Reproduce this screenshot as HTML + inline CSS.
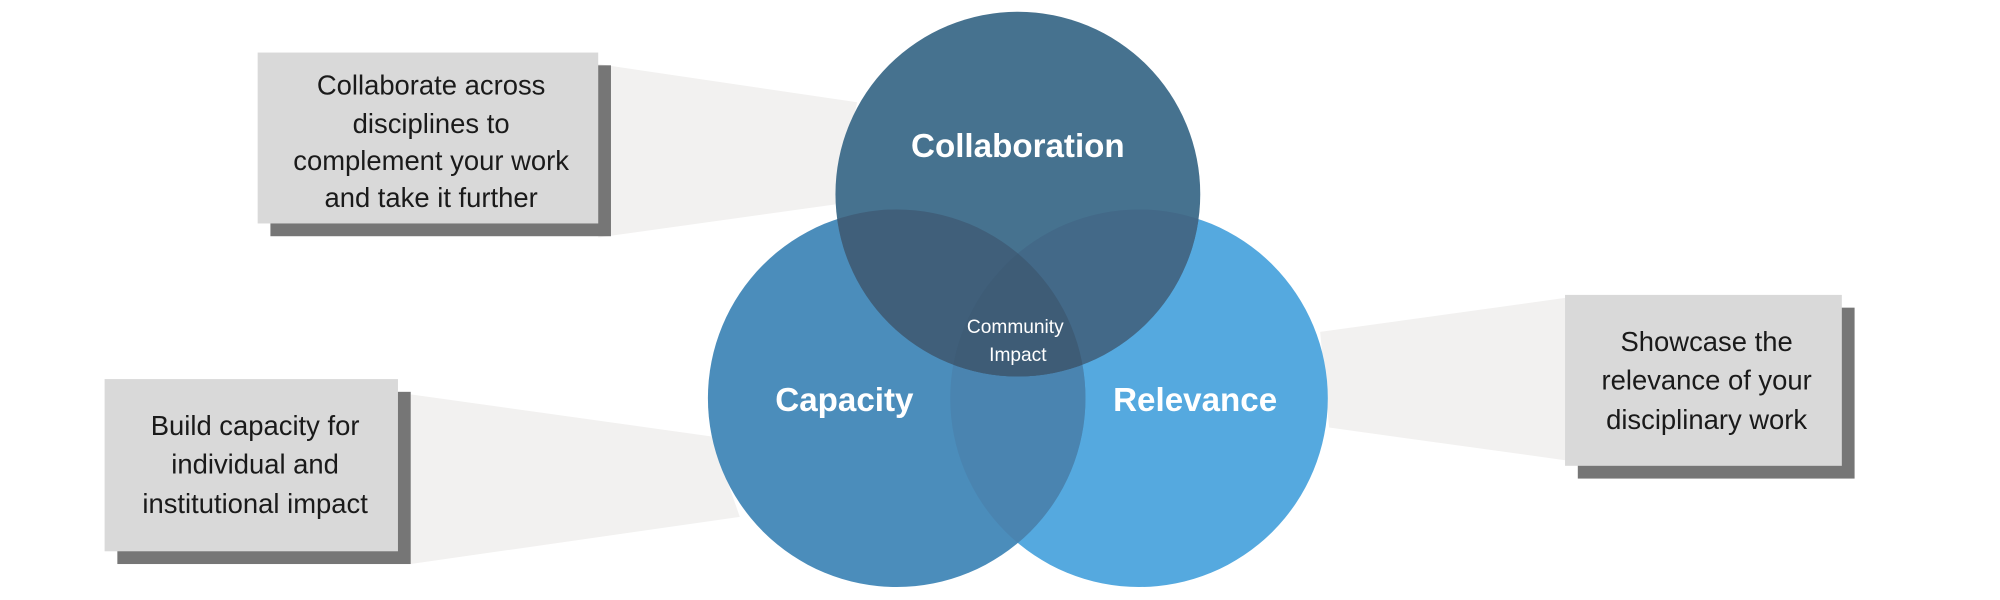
<!DOCTYPE html>
<html><head><meta charset="utf-8"><style>html,body{margin:0;padding:0;background:#fff}svg{display:block}</style></head>
<body>
<svg width="2000" height="600" viewBox="0 0 1568 470" xmlns="http://www.w3.org/2000/svg" font-family="'Liberation Sans', sans-serif">
<defs>
<clipPath id="cap"><circle cx="703" cy="312" r="148"/></clipPath>
<clipPath id="rel"><circle cx="893" cy="312" r="148"/></clipPath>
<clipPath id="col"><circle cx="798" cy="152" r="143"/></clipPath>
</defs>
<rect width="1568" height="470" fill="#fff"/>
<polygon points="469,50 672,80 655,160 469,186" fill="#f2f1f0"/>
<polygon points="322,309 558,342 580,405 322,442" fill="#f2f1f0"/>
<polygon points="1237,232 1035,260 1042,335 1237,362" fill="#f2f1f0"/>
<rect x="212" y="51" width="267" height="134" fill="#767676"/>
<rect x="202" y="41" width="267" height="134" fill="#d9d9d9"/>
<rect x="92" y="307" width="230" height="135" fill="#767676"/>
<rect x="82" y="297" width="230" height="135" fill="#d9d9d9"/>
<rect x="1237" y="241" width="217" height="134" fill="#767676"/>
<rect x="1227" y="231" width="217" height="134" fill="#d9d9d9"/>
<circle cx="893" cy="312" r="148" fill="#55a9df"/>
<circle cx="703" cy="312" r="148" fill="#4b8dbb"/>
<circle cx="893" cy="312" r="148" fill="#4a84b0" clip-path="url(#cap)"/>
<circle cx="798" cy="152" r="143" fill="#46728f"/>
<circle cx="703" cy="312" r="148" fill="#405f7a" clip-path="url(#col)"/>
<circle cx="893" cy="312" r="148" fill="#436988" clip-path="url(#col)"/>
<g clip-path="url(#col)"><circle cx="893" cy="312" r="148" fill="#3e5c76" clip-path="url(#cap)"/></g>
<g font-size="21.5" fill="#1a1a1a" text-anchor="middle">
<text x="338" y="74">Collaborate across</text>
<text x="338" y="104">disciplines to</text>
<text x="338" y="133">complement your work</text>
<text x="338" y="162">and take it further</text>
<text x="200" y="341">Build capacity for</text>
<text x="200" y="371">individual and</text>
<text x="200" y="402">institutional impact</text>
<text x="1338" y="275">Showcase the</text>
<text x="1338" y="305">relevance of your</text>
<text x="1338" y="336">disciplinary work</text>
</g>
<g font-size="26" font-weight="bold" fill="#fff" text-anchor="middle">
<text x="798" y="123">Collaboration</text>
<text x="662" y="322">Capacity</text>
<text x="937" y="322">Relevance</text>
</g>
<g font-size="15" fill="#fff" text-anchor="middle">
<text x="796" y="261">Community</text>
<text x="798" y="283">Impact</text>
</g>
</svg>
</body></html>
